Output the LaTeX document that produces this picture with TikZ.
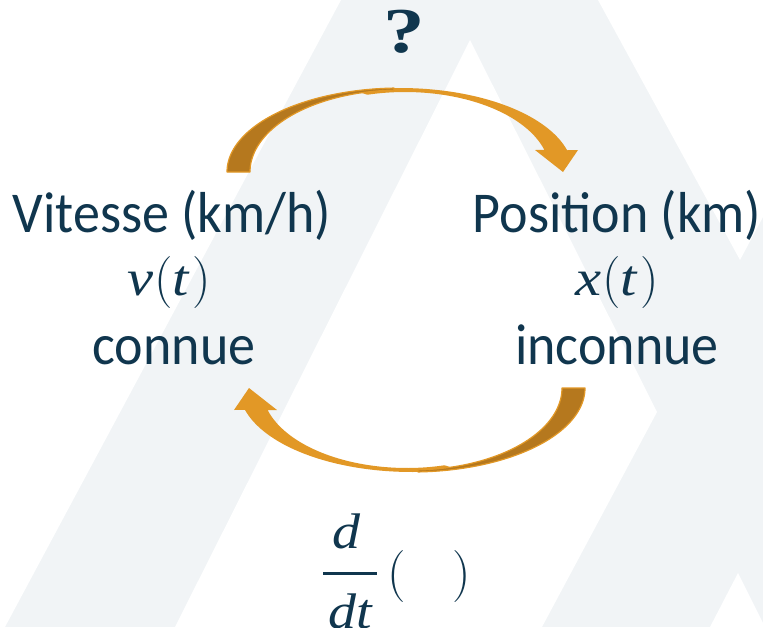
\RequirePackage{fix-cm}
\documentclass[tikz,border=0pt]{standalone}
\usepackage[no-math]{fontspec}
\setmainfont{Carlito}
\newfontfamily\qfont{Liberation Serif}
\newfontfamily\mfont{Liberation Serif}
\definecolor{navy}{RGB}{16,54,78}
\definecolor{bandgray}{RGB}{241,244,246}
\definecolor{arrowlight}{RGB}{226,152,38}
\definecolor{arrowdark}{RGB}{181,120,30}
\newcommand{\mv}[1]{\scalebox{1.15}[1]{\mfont\itshape\fontsize{51}{50}\selectfont #1}}
\newcommand{\mfr}[1]{\scalebox{1.12}[1]{\mfont\itshape\fontsize{50}{50}\selectfont #1}}
\newcommand{\pr}[1]{{\fontsize{52}{50}\selectfont$#1$}}
\tikzset{
  lbl/.style={text=navy, inner sep=0pt, anchor=base, font=\fontsize{54}{60}\selectfont},
  mth/.style={text=navy, inner sep=0pt, anchor=base},
  lightpart/.style={fill=arrowlight},
  darkpart/.style={fill=arrowdark, draw=arrowlight, line width=1.2pt, line join=round},
}
\newcommand{\curvedarrowshape}{%
  \fill[lightpart]
    plot[domain=105:15, samples=50, variable=\t] ({400+173*cos(\t)},{172-84*sin(\t)})
    -- (578,150) -- (563,172) -- (535,150)
    -- plot[domain=16:105, samples=50, variable=\t] ({405+145*cos(\t)},{172-80*sin(\t)})
    -- cycle;
  \filldraw[darkpart]
    plot[domain=180:92, samples=50, variable=\t] ({400+173*cos(\t)},{172-84*sin(\t)})
    -- plot[domain=92:180, samples=50, variable=\t] ({400+150*cos(\t)},{172-82*sin(\t)})
    -- cycle;
}
\begin{document}
\begin{tikzpicture}[x=1pt,y=-1pt]
\useasboundingbox (0,0) rectangle (763,627);
\clip (0,0) rectangle (763,627);
% background watermark
\fill[bandgray] (0,0) rectangle (763,627);
\fill[white] (0,0) -- (341,0) -- (5,627) -- (0,627) -- cycle;
\fill[white] (470,40) -- (657,412) -- (542,627) -- (175,627) -- cycle;
\fill[white] (598,0) -- (763,0) -- (763,217) -- (740,260) -- cycle;
\fill[white] (738,573) -- (710,627) -- (763,627) -- (763,623) -- cycle;
% arrows
\curvedarrowshape
\begin{scope}[rotate around={180:(406,280)}]
  \curvedarrowshape
\end{scope}
% texts
\node[text=navy, anchor=base, inner sep=0pt] (q) at (404,52) {\qfont\bfseries\fontsize{64}{60}\selectfont\scalebox{1.3}[1]{?}};
\node[lbl] (vit) at (172,232) {\scalebox{1}[1.07]{Vitesse (km/h)}};
\node[mth] (vt) at (169,295) {\mv{v}\kern1pt\pr{(}\mv{t}\kern3pt\pr{)}};
\node[lbl] (con) at (174,364) {\scalebox{1}[1.07]{connue}};
\node[lbl] (pos) at (617,232) {\scalebox{1}[1.07]{Position (km)}};
\node[mth] (xt) at (617,295) {\mv{x}\kern1pt\pr{(}\mv{t}\kern3pt\pr{)}};
\node[lbl] (incon) at (617,364) {\scalebox{1}[1.07]{inconnue}};
% derivative operator
\node[mth] (num) at (346,548) {\mfr{d}};
\node[mth] (den) at (350,628) {\mfr{dt}};
\coordinate (barl) at (323,573);
\coordinate (barr) at (377,573);
\draw[navy, line width=3pt] (barl) -- (barr);
\node[mth, anchor=base west] (lpar) at (387,589) {\pr{(}};
\node[mth, anchor=base west] (rpar) at (452,589) {\pr{)}};
\end{tikzpicture}
\end{document}
